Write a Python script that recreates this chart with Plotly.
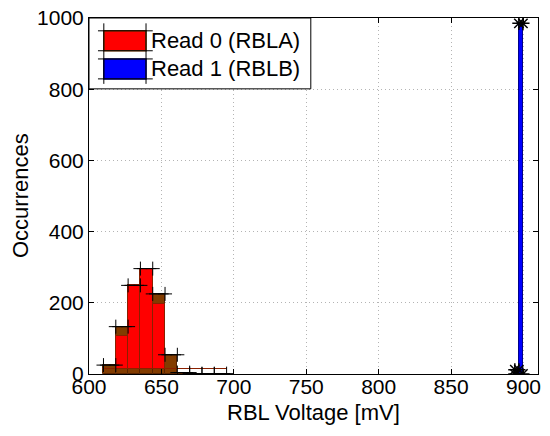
import plotly.graph_objects as go

# histogram data (RBL voltage in mV, counts)
red_edges = [610, 618.5, 627, 635.5, 644, 652.5, 661, 669.5, 678, 686.5, 695]
red_counts = [25, 133, 249, 296, 225, 54, 4, 1, 0, 1]
red_inner = [0, 108, 249, 296, 197, 0, 0, 0, 0, 0]  # red part drawn over brown
red_inner_base = 14

blue_edges = [894.0, 896.8, 899.6]
blue_counts = [12, 985]

x_ticks = [600, 650, 700, 750, 800, 850, 900]
y_ticks = [0, 200, 400, 600, 800, 1000]
series_names = ["Read 0 (RBLA)", "Read 1 (RBLB)"]

FONT = "Arial, Liberation Sans, sans-serif"


def centers_widths(edges):
    c = [(edges[i] + edges[i + 1]) / 2 for i in range(len(edges) - 1)]
    w = [edges[i + 1] - edges[i] for i in range(len(edges) - 1)]
    return c, w


fig = go.Figure()

rc, rw = centers_widths(red_edges)
fig.add_trace(go.Bar(x=rc, y=red_counts, width=rw,
                     marker=dict(color="#823c00", line=dict(color="#5a2400", width=1)),
                     showlegend=False))
fig.add_trace(go.Bar(x=rc, y=[max(v - red_inner_base, 0) for v in red_inner], base=red_inner_base, width=rw,
                     marker=dict(color="#ff0000", line=dict(color="#8a2000", width=1)),
                     showlegend=False))

bc, bw = centers_widths(blue_edges)
fig.add_trace(go.Bar(x=bc, y=blue_counts, width=bw,
                     marker=dict(color="#0000ff", line=dict(color="#00008b", width=1)),
                     showlegend=False))

# black top lines with + markers (red) / * markers (blue)
def top_lines(edges, counts, ext):
    lx, ly, mx, my = [], [], [], []
    for i, v in enumerate(counts):
        l, r = edges[i], edges[i + 1]
        lx += [l - ext, r + ext, None]
        ly += [v, v, None]
        mx += [l, r]
        my += [v, v]
    return lx, ly, mx, my

lx, ly, mx, my = top_lines(red_edges, red_counts, 2.5)
fig.add_trace(go.Scatter(x=lx, y=ly, mode="lines", line=dict(color="black", width=1),
                         showlegend=False, hoverinfo="skip"))
fig.add_trace(go.Scatter(x=mx, y=my, mode="markers",
                         marker=dict(symbol="cross-thin-open", size=10, color="black",
                                     line=dict(color="black", width=1)),
                         showlegend=False, hoverinfo="skip"))

lx, ly, mx, my = top_lines(blue_edges, blue_counts, 0)
fig.add_trace(go.Scatter(x=mx + [blue_edges[0], blue_edges[-1]], y=my + [0, 0], mode="markers",
                         marker=dict(symbol="asterisk-open", size=11, color="black",
                                     line=dict(color="black", width=1.5)),
                         showlegend=False, hoverinfo="skip"))

# hand-drawn legend box in axis-domain coordinates
shapes = []
D = dict(xref="x domain", yref="y domain")
shapes.append(dict(type="rect", x0=0, x1=0.494, y0=0.801, y1=1.0, line=dict(color="black", width=1),
                   fillcolor="white", layer="above", **D))
swatches = [("#ff0000", "#823c00", 0.908, 0.964), ("#0000ff", "#00008b", 0.829, 0.885)]
for fill, edge, y0, y1 in swatches:
    shapes.append(dict(type="rect", x0=0.033, x1=0.127, y0=y0, y1=y1, fillcolor=fill,
                       line=dict(color=edge, width=1.5), layer="above", **D))
    for yy in (y0, y1):
        shapes.append(dict(type="line", x0=0.02, x1=0.142, y0=yy, y1=yy,
                           line=dict(color="black", width=1), layer="above", **D))
for xx in (0.033, 0.127):
    shapes.append(dict(type="line", x0=xx, x1=xx, y0=0.815, y1=0.985,
                       line=dict(color="black", width=1), layer="above", **D))

annotations = []
for name, yc in zip(series_names, [0.936, 0.857]):
    annotations.append(dict(text=name, x=0.133, y=yc, xref="x domain", yref="y domain",
                            xanchor="left", yanchor="middle", showarrow=False,
                            font=dict(family=FONT, size=22, color="black")))
# axis titles placed by hand
annotations.append(dict(text="RBL Voltage [mV]", x=0.5, y=0, xref="x domain", yref="y domain",
                        xanchor="center", yanchor="middle", yshift=-38, showarrow=False,
                        font=dict(family=FONT, size=22, color="black")))
annotations.append(dict(text="Occurrences", x=0, y=0.5, xref="x domain", yref="y domain",
                        xanchor="center", yanchor="middle", xshift=-69, textangle=-90, showarrow=False,
                        font=dict(family=FONT, size=22, color="black")))

axis_common = dict(showline=True, linecolor="black", linewidth=1, mirror="allticks",
                   ticks="inside", ticklen=5, tickcolor="black", automargin=False,
                   ticklabeloverflow="allow",
                   showgrid=True, gridcolor="#b4b4b4", griddash="1px,3px", gridwidth=1,
                   zeroline=False, tickfont=dict(family=FONT, size=21, color="black"))

# page body has an 8px margin, so the figure is a bit smaller than the window
fig.update_layout(
    width=542, height=428,
    margin=dict(l=81, r=12, t=10, b=62),
    paper_bgcolor="white", plot_bgcolor="white",
    barmode="overlay", bargap=0,
    shapes=shapes, annotations=annotations,
    xaxis=dict(range=[600, 910], tickvals=x_ticks, ticklabelstandoff=-6, **axis_common),
    yaxis=dict(range=[0, 1000], tickvals=y_ticks, **axis_common),
)

fig.write_html("out.html")
